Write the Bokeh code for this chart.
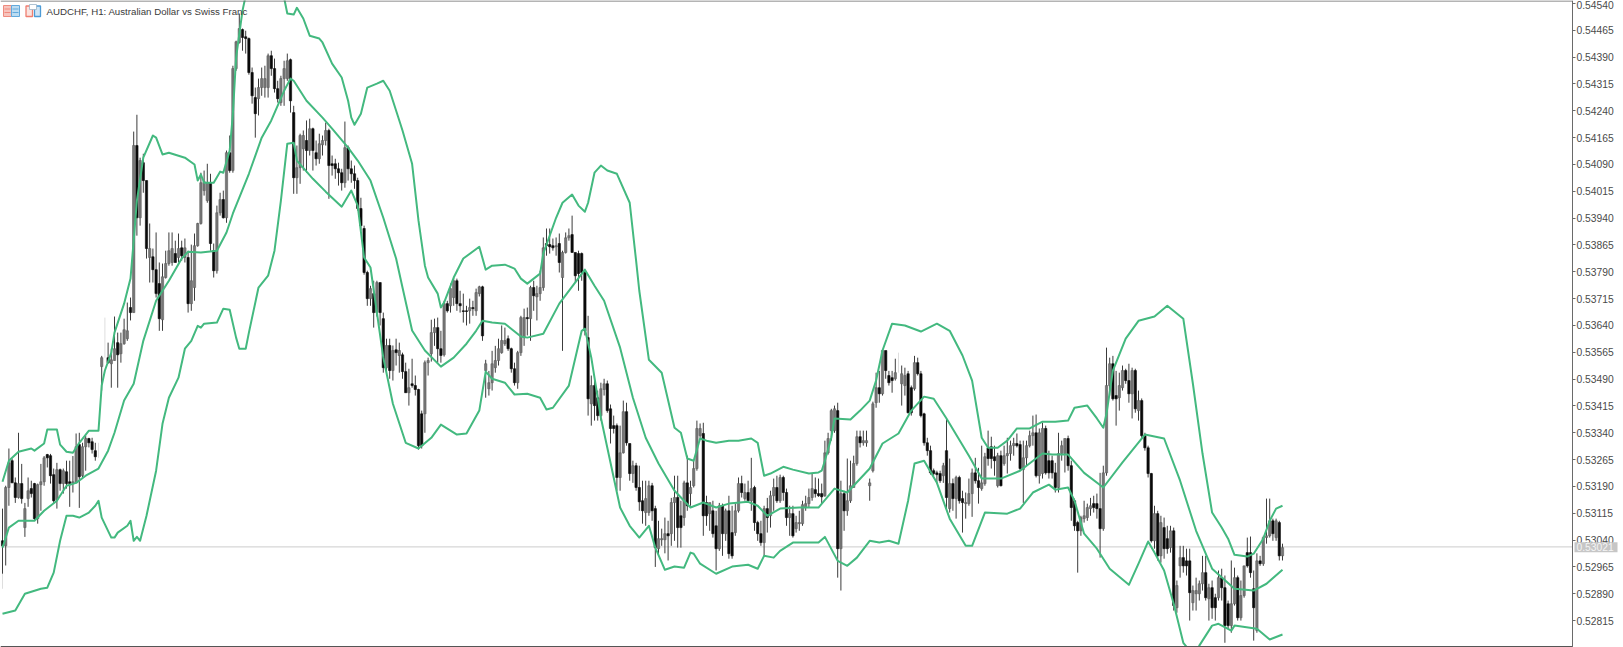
import numpy as np
from bokeh.core.properties import value
from bokeh.embed import file_html
from bokeh.resources import INLINE
from bokeh.plotting import figure
from bokeh.models import LinearAxis, FixedTicker, Label, NumeralTickFormatter, Range1d

symbol_text = "AUDCHF, H1:  Australian Dollar vs Swiss Franc"
tick_labels = ["0.54540","0.54465","0.54390","0.54315","0.54240","0.54165","0.54090","0.54015","0.53940","0.53865","0.53790","0.53715","0.53640","0.53565","0.53490","0.53415","0.53340","0.53265","0.53190","0.53115","0.53040","0.52965","0.52890","0.52815"]
last_price = 0.53021

# prices in 1e-5 units (points)
opens = [
53038,53024,53187,53262,53200,53159,53198,53075,53156,53184,
53198,53100,53195,53203,53279,53276,53223,53153,53237,53198,
53231,53203,53200,53200,53307,53220,53301,53324,53315,53290,
None,53525,None,53550,53533,53542,53592,53561,53589,53603,
53690,53676,54143,53941,54095,54045,53830,53832,53796,53757,
53656,53774,53813,53816,53841,53830,53857,53830,53830,53701,
53746,53863,53925,54017,53989,54039,53849,53793,53955,53992,
53941,54123,54073,54358,54431,54467,54447,54442,54347,54277,
54274,54305,54305,54305,54394,54358,54302,54263,54330,54330,
54383,54235,54053,54081,54134,54157,54129,54190,54123,54106,
54145,54157,54185,54092,54092,54078,54067,54039,54137,54078,
54064,54045,53967,53911,53788,53715,53729,53676,53760,53659,
53522,53584,53514,53572,53556,53558,53511,53452,53477,53472,
53461,53393,53393,53536,53561,53620,53634,53575,53558,53701,
53695,53718,53765,53701,53681,53681,53681,53690,53681,53729,
53748,53514,53463,53480,53522,53542,53564,53589,53603,53575,
53519,53480,53564,53606,53662,53659,53746,53720,53729,53746,
53869,53866,53863,53860,53869,53774,53844,53885,53894,53844,
53841,53841,53788,53606,53421,53472,53438,53388,53461,53477,
53407,53360,53360,53215,53284,53399,53310,53226,53248,53187,
53150,53117,53117,53192,53128,53016,53041,53041,53058,53058,
53145,53159,53108,53103,53200,53170,53192,53240,53332,53338,
53145,53114,53122,53080,53016,53136,53058,53122,53061,53061,
53122,53198,53156,53173,53150,53187,53089,53058,53033,53128,
53108,53164,53187,53150,53215,53173,53103,53114,53072,53086,
53086,53131,53142,53159,53181,53170,53170,53164,53284,53346,
53346,53402,53016,53170,53122,53150,53187,53254,53329,53312,
53312,53192,53234,53424,53466,53449,53570,53500,53494,53491,
None,53477,53472,53505,53466,53463,53536,53505,53393,53312,
53290,53234,53228,53226,53220,53290,53128,53198,53156,53215,
53156,53142,53142,53170,53228,53206,53184,53198,53298,53301,
53273,53192,53276,53254,53276,53282,53304,53310,53307,53237,
53270,53304,53332,53340,53220,53226,53352,53262,53262,53228,
53187,53282,53282,53324,53248,53150,53089,53066,53100,53103,
53128,53142,53142,53128,53072,53228,53472,53533,53444,53438,
53466,53514,53486,53449,53514,53402,53430,53332,53298,53226,
53038,53114,52996,53075,53044,53019,53066,52851,52968,52991,
52982,52982,52865,52890,52890,52918,52949,52876,52907,52879,
52879,52935,52907,52862,52801,52862,52935,52823,52885,53005,
53005,52904,52787,52982,52974,53047,53052,53094,53047,53089,52996]
highs = [
53128,53192,53296,53268,53215,53340,53253,53144,53215,53206,
53200,53198,53253,53275,53281,53281,53240,53256,53240,53240,
53262,53262,53275,53338,53340,53312,53332,53326,53326,53312,
None,53555,None,53592,53575,53665,53620,53620,53659,53704,
53718,54182,54229,54109,54120,54045,53925,53855,53900,53816,
53813,53849,53900,53900,53877,53897,53877,53883,53849,53866,
53897,53927,54067,54073,54092,54064,53869,53975,54011,54017,
54129,54171,54366,54436,54512,54470,54464,54445,54361,54305,
54330,54361,54366,54400,54408,54386,54324,54338,54380,54400,
54386,54254,54143,54176,54185,54213,54218,54193,54157,54176,
54171,54207,54190,54115,54106,54095,54078,54210,54143,54101,
54087,54053,53997,53919,53793,53751,53765,53765,53760,53676,
53603,53603,53584,53603,53592,53564,53536,53519,53547,53500,
53463,53402,53542,53550,53656,53659,53662,53625,53709,53709,
53757,53773,53771,53737,53729,53695,53715,53709,53743,53751,
53751,53544,53513,53569,53583,53603,53640,53634,53612,53578,
53536,53569,53667,53687,53690,53751,53765,53751,53793,53886,
53911,53911,53883,53886,53897,53849,53900,53911,53947,53844,
53849,53844,53793,53667,53500,53500,53458,53480,53491,53486,
53419,53388,53366,53360,53430,53424,53310,53262,53256,53248,
53206,53206,53206,53200,53136,53094,53072,53103,53094,53158,
53220,53220,53150,53206,53276,53206,53262,53374,53366,53368,
53164,53144,53150,53122,53144,53142,53128,53164,53136,53142,
53215,53220,53198,53206,53270,53192,53094,53094,53136,53158,
53178,53212,53220,53223,53220,53184,53136,53136,53108,53122,
53150,53164,53184,53226,53215,53212,53198,53318,53340,53407,
53416,53424,53206,53178,53268,53262,53276,53346,53346,53346,
53346,53212,53427,53508,53513,53569,53569,53513,53513,53547,
None,53528,53522,53513,53472,53555,53550,53513,53396,53326,
53304,53240,53234,53234,53256,53380,53268,53212,53220,53220,
53178,53173,53212,53240,53270,53242,53304,53284,53346,53329,
53304,53284,53290,53304,53326,53318,53326,53338,53318,53318,
53318,53346,53388,53391,53352,53368,53360,53290,53276,53256,
53340,53318,53324,53332,53262,53156,53094,53108,53150,53142,
53158,53164,53170,53228,53248,53578,53550,53555,53513,53508,
53528,53519,53533,53522,53519,53458,53436,53340,53304,53228,
53136,53122,53108,53103,53080,53080,53075,52927,53024,53024,
53016,53016,52913,52935,52927,52996,52996,52918,52927,52890,
52955,52960,52941,52871,52983,52963,52941,52927,52968,53047,
53050,52955,53003,52996,53052,53156,53156,53100,53100,53094,53030]
lows = [
52946,52969,53136,53200,53144,53156,53142,53049,53133,53159,
53094,53086,53122,53192,53243,53198,53142,53128,53178,53170,
53184,53133,53173,53200,53130,53215,53234,53299,53282,53262,
None,53458,None,53533,53466,53542,53466,53536,53586,53597,
53654,53676,53891,53919,54011,53827,53760,53760,53718,53625,
53625,53771,53807,53807,53816,53816,53821,53816,53676,53681,
53709,53860,53922,54003,53983,53849,53774,53785,53947,53939,
53927,54067,54067,54352,54428,54408,54400,54341,54260,54165,
54227,54282,54277,54277,54338,54291,54263,54254,54254,54324,
54235,54008,54008,54036,54073,54067,54115,54073,54087,54092,
54115,54143,53994,54059,54050,54031,54017,54025,54045,54039,
54022,53961,53905,53782,53695,53695,53634,53665,53640,53508,
53500,53491,53486,53528,53508,53491,53452,53416,53466,53444,
53293,53296,53340,53500,53539,53583,53536,53536,53553,53676,
53676,53695,53681,53676,53648,53640,53645,53667,53667,53721,
53597,53438,53444,53458,53508,53528,53561,53583,53569,53508,
53472,53463,53555,53583,53612,53597,53681,53654,53709,53737,
53835,53841,53849,53835,53788,53569,53841,53877,53844,53760,
53737,53765,53612,53388,53360,53374,53374,53374,53444,53396,
53310,53338,53178,53178,53282,53304,53206,53200,53178,53122,
53086,53080,53108,53094,52965,52996,53024,53003,52983,53024,
53038,53019,53019,53080,53122,53136,53187,53234,53326,53052,
53080,53066,53047,52955,53010,52996,53038,52988,52988,53052,
53117,53159,53150,53144,53122,53066,53038,53024,52996,53061,
53075,53122,53144,53144,53150,53080,53052,53047,53061,53066,
53080,53122,53130,53150,53159,53161,53142,53161,53279,53318,
53340,52935,52899,53066,53108,53144,53187,53248,53299,53304,
53301,53150,53229,53410,53424,53444,53491,53472,53452,53486,
None,53416,53444,53394,53388,53458,53500,53383,53304,53276,
53223,53220,53198,53200,53200,53122,53117,53122,53100,53142,
53061,53100,53136,53105,53198,53142,53178,53192,53248,53240,
53220,53187,53190,53248,53226,53262,53276,53299,53234,53144,
53248,53299,53304,53215,53198,53212,53223,53212,53212,53173,
53173,53262,53229,53234,53094,53066,52949,53052,53089,53094,
53108,53117,53100,52991,53066,53220,53444,53430,53360,53402,
53458,53477,53424,53380,53396,53374,53326,53290,53215,53033,
53016,52983,52977,52988,53002,53005,52843,52837,52935,52949,
52941,52815,52843,52843,52871,52899,52871,52815,52820,52815,
52871,52871,52753,52792,52781,52857,52815,52815,52879,52963,
52935,52759,52781,52968,52968,53030,53047,53038,53038,52983,52983]
closes = [
53024,53187,53256,53200,53159,53198,53156,53128,53178,53170,
53100,53195,53203,53270,53270,53220,53150,53237,53198,53234,
53198,53198,53203,53301,53217,53301,53324,53312,53293,53273,
None,53550,None,53536,53544,53575,53558,53589,53628,53625,
53676,54143,53941,54101,54045,53855,53855,53796,53729,53659,
53776,53813,53849,53855,53816,53855,53835,53857,53701,53765,
53863,53925,54039,54042,54039,53869,53793,53955,53992,53941,
54123,54073,54358,54433,54470,54445,54442,54347,54282,54232,
54305,54330,54330,54394,54358,54302,54274,54330,54358,54380,
54268,54053,54081,54171,54171,54129,54190,54129,54106,54148,
54157,54185,54087,54087,54078,54067,54039,54137,54078,54064,
54045,53967,53919,53788,53715,53743,53676,53760,53676,53522,
53584,53514,53570,53564,53570,53511,53452,53466,53472,53461,
53304,53304,53536,53542,53620,53634,53575,53556,53701,53681,
53743,53765,53701,53695,53679,53679,53690,53687,53732,53748,
53611,53533,53480,53533,53542,53575,53598,53598,53575,53519,
53480,53564,53662,53662,53659,53746,53723,53729,53746,53857,
53863,53860,53857,53863,53816,53844,53885,53891,53844,53779,
53785,53788,53625,53435,53472,53416,53388,53463,53477,53402,
53352,53352,53215,53284,53399,53312,53226,53248,53187,53147,
53122,53156,53192,53122,53019,53044,53044,53058,53052,53145,
53159,53075,53075,53200,53136,53187,53240,53352,53352,53108,
53108,53145,53058,53016,53136,53058,53122,53002,52996,53122,
53198,53173,53173,53150,53184,53089,53058,53033,53128,53103,
53164,53187,53150,53215,53173,53103,53114,53052,53089,53089,
53139,53142,53159,53184,53170,53164,53161,53284,53324,53402,
53407,53016,53170,53122,53150,53192,53254,53329,53312,53318,
53318,53200,53421,53466,53449,53570,53514,53480,53486,53508,
None,53505,53500,53396,53396,53536,53505,53388,53312,53290,
53228,53226,53223,53206,53248,53159,53198,53156,53215,53150,
53145,53145,53170,53228,53206,53187,53200,53273,53268,53268,
53262,53276,53192,53276,53282,53304,53310,53304,53240,53270,
53304,53332,53340,53220,53340,53352,53228,53228,53228,53187,
53282,53304,53324,53248,53131,53080,53066,53103,53108,53131,
53136,53131,53128,53072,53228,53472,53533,53435,53435,53472,
53514,53486,53449,53514,53407,53430,53332,53298,53226,53038,
53114,52996,53089,53016,53016,53066,52857,52913,52991,52968,
52968,52893,52899,52899,52918,52949,52879,52907,52851,52851,
52935,52907,52801,52801,52862,52935,52823,52885,52968,52968,
52949,52851,52982,52974,53047,53052,53094,53058,53094,52996,53019]

faint_bars = [0,30,32,280]
faint_high = [52946,53312,53662,53564]
faint_low = [52904,53270,53550,53508]

upper_bar = [0,2,5,9,10,13,14,17,18,20,22,24,27,30,31,32,34,35,38,40,41,42,44,47,48,50,52,57,60,61,62,63,66,68,69,71,72,73,75,76,82,88,89,91,92,94,96,99,100,103,106,108,109,110,112,114,117,119,121,124,125,128,130,132,133,136,137,138,141,144,149,151,153,157,160,162,164,168,169,173,175,178,180,182,183,185,187,189,192,196,198,199,202,206,210,212,214,216,218,220,223,227,230,234,236,238,240,244,247,252,255,256,257,259,260,265,268,271,273,275,278,282,287,292,296,300,303,306,308,311,314,317,321,325,329,333,335,339,342,344,345,347,351,355,360,364,369,372,375,378,381,383,385,389,391,394,396,398,400]
upper_val = [53203,53262,53287,53296,53290,53310,53349,53349,53307,53287,53284,53312,53346,53346,53472,53514,53564,53620,53701,53771,53877,53989,54109,54171,54165,54118,54123,54109,54090,54045,54062,54039,54039,54070,54067,54129,54232,54389,54520,54562,54590,54556,54512,54509,54528,54498,54450,54442,54431,54372,54333,54268,54221,54201,54232,54305,54316,54324,54296,54213,54185,54092,53933,53807,53774,53729,53690,53704,53774,53827,53860,53796,53807,53810,53799,53771,53757,53785,53841,53941,53983,54006,53975,53958,53983,54067,54087,54073,54064,53983,53821,53737,53544,53508,53354,53340,53268,53262,53324,53318,53312,53318,53318,53324,53312,53220,53226,53245,53237,53226,53229,53234,53262,53326,53380,53377,53402,53430,53486,53570,53645,53640,53623,53645,53625,53556,53486,53326,53298,53298,53318,53352,53352,53371,53371,53374,53410,53416,53380,53354,53393,53514,53603,53653,53665,53695,53659,53477,53282,53117,53075,53044,52999,52994,53002,53044,53094,53128,53136]
middle_bar = [0,2,5,10,13,17,20,23,26,30,33,35,38,41,44,48,52,56,58,62,67,70,72,77,81,84,88,90,91,95,100,103,108,111,115,119,123,125,128,132,137,141,145,148,150,153,157,162,164,169,174,182,185,188,193,197,201,205,210,215,219,223,227,233,236,239,243,249,255,260,264,271,275,280,284,288,291,295,302,306,312,318,325,328,333,338,344,350,357,363,368,373,378,385,391,395,400]
middle_val = [53019,53075,53094,53094,53122,53150,53192,53200,53220,53240,53290,53340,53430,53477,53597,53709,53765,53827,53846,53844,53849,53900,53953,54064,54165,54213,54296,54330,54324,54268,54221,54190,54137,54101,54045,53941,53827,53746,53626,53570,53525,53550,53589,53625,53653,53648,53645,53609,53606,53617,53701,53796,53751,53709,53578,53438,53326,53254,53178,53131,53145,53131,53142,53147,53136,53108,53128,53131,53131,53184,53173,53240,53310,53338,53402,53441,53435,53380,53276,53212,53212,53234,53282,53279,53279,53228,53187,53257,53335,53324,53206,53066,52960,52904,52899,52918,52957]
lower_bar = [0,4,7,12,14,16,18,20,22,24,27,29,30,31,34,35,36,39,40,41,42,43,45,48,50,52,55,57,59,61,62,63,67,69,71,73,74,76,77,80,83,85,87,89,91,92,97,101,103,106,109,111,113,115,119,122,126,130,134,137,142,145,149,151,153,157,160,164,168,170,172,177,181,182,184,187,193,196,199,202,204,207,210,213,215,216,218,223,228,233,236,238,241,243,247,255,257,261,264,267,271,274,277,280,283,285,288,292,296,301,303,307,314,318,322,327,329,333,335,338,342,346,352,355,358,360,363,366,369,371,373,374,378,380,384,385,392,396,400]
lower_val = [52834,52843,52890,52904,52907,52949,53038,53108,53108,53103,53117,53136,53150,53103,53047,53047,53061,53080,53094,53038,53049,53038,53108,53234,53365,53438,53494,53575,53597,53639,53634,53645,53648,53687,53684,53606,53575,53575,53620,53746,53779,53849,53989,54148,54151,54101,54050,54014,53997,53972,54017,53975,53830,53802,53550,53421,53312,53296,53326,53363,53335,53338,53402,53511,53491,53480,53447,53449,53438,53405,53410,53472,53625,53631,53550,53382,53131,53080,53047,53080,53019,52957,52966,52963,53005,53002,52974,52946,52966,52971,52960,52996,52991,53010,53033,53033,53049,52982,52968,52991,53038,53033,53038,53030,53150,53254,53262,53200,53100,53024,53024,53117,53114,53128,53173,53195,53181,53187,53150,53058,53016,52960,52915,52974,53036,53005,52955,52862,52753,52731,52717,52745,52801,52806,52787,52801,52792,52762,52776]

PT = 1e-5
W, H = 1623, 647
AXIS_PX = 1572
BAR_PX = 3.2
PX_PER_PRICE = 26.83 / 0.00075
top_price = 0.54540 + 3 / PX_PER_PRICE
bot_price = top_price - H / PX_PER_PRICE
x0 = -2 / BAR_PX
x1 = x0 + W / BAR_PX

def sx(px):
    return x0 + px / BAR_PX
def sy(py):
    return top_price - py / PX_PER_PRICE

o = np.array(opens, dtype=float) * PT
h = np.array(highs, dtype=float) * PT
l = np.array(lows, dtype=float) * PT
c = np.array(closes, dtype=float) * PT
idx = np.arange(len(o))
bull = c >= o
bear = c < o

p = figure(width=W, height=H, output_backend="svg", toolbar_location=None,
           x_range=Range1d(x0, x1), y_range=Range1d(bot_price, top_price),
           min_border_left=0, min_border_top=0, min_border_bottom=0, min_border_right=0,
           x_axis_location=None, y_axis_location=None, background_fill_color="white",
           border_fill_color="white", outline_line_color=None)
p.grid.visible = False

# current price line
p.segment([x0], [last_price], [sx(AXIS_PX)], [last_price], line_color="#cdcdcd", line_width=1)

p.segment(np.array(faint_bars), np.array(faint_high) * PT, np.array(faint_bars), np.array(faint_low) * PT,
          line_color="#dedede", line_width=1)
p.segment(idx, h, idx, l, line_color="#3c3c3c", line_width=1)
p.vbar(idx[bull], top=c[bull], bottom=o[bull], width=0.72, fill_color="#777777", line_color="#5c5c5c", line_width=0.6)
p.vbar(idx[bear], top=o[bear], bottom=c[bear], width=0.72, fill_color="#0a0a0a", line_color="#0a0a0a", line_width=0.6)

band_color = "#43b97f"
p.line(upper_bar, np.array(upper_val) * PT, line_color=band_color, line_width=2, line_join="round")
p.line(middle_bar, np.array(middle_val) * PT, line_color=band_color, line_width=2, line_join="round")
p.line(lower_bar, np.array(lower_val) * PT, line_color=band_color, line_width=2, line_join="round")

ticks = [float(t) for t in tick_labels]
axis = LinearAxis(ticker=FixedTicker(ticks=ticks), formatter=NumeralTickFormatter(format="0.00000"),
                  axis_line_color="#6a6a6a", axis_line_width=1, fixed_location=sx(AXIS_PX),
                  major_tick_line_color="#6a6a6a", major_tick_in=0, major_tick_out=3, minor_tick_line_color=None,
                  major_label_text_font="Liberation Sans", major_label_text_font_size="10.3px",
                  major_label_text_color="#4a4a4a", major_label_standoff=1)
p.add_layout(axis, "right")

# frame lines
p.segment([x0, x0], [sy(0.5), sy(646)], [sx(AXIS_PX), sx(AXIS_PX)], [sy(0.5), sy(646)],
          line_color=["#6a6a6a", "#555555"], line_width=1)

# price tag
p.quad(left=[sx(1574)], right=[sx(1617)], top=[sy(541.7)], bottom=[sy(551.7)], fill_color="#c6c6c6",
       line_color=None, level="annotation")
p.text(x=[sx(1576)], y=[last_price], text=[f"{last_price:.5f}"], text_font=value("Liberation Sans"),
       text_font_size="10.3px", text_color="#f4f4f4", text_baseline="middle", level="overlay")

# header icons and text
p.add_layout(Label(x=46, y=sy(11), x_units="screen", y_units="data", text=symbol_text,
                   text_font="Liberation Sans", text_font_size="9.7px", text_color="#3a3a3a", text_baseline="middle"))
p.quad(left=[sx(3)], right=[sx(11)], top=[sy(5)], bottom=[sy(16)], fill_color="#f7c4bd", line_color="#ef8a7e", line_width=1)
p.quad(left=[sx(11)], right=[sx(19)], top=[sy(5)], bottom=[sy(16)], fill_color="#bcdcf2", line_color="#62a9dc", line_width=1)
p.segment([sx(4), sx(4), sx(12), sx(12)], [sy(8.5), sy(12), sy(8.5), sy(12)], [sx(10), sx(10), sx(18), sx(18)], [sy(8.5), sy(12), sy(8.5), sy(12)],
          line_color=["#ef8a7e", "#ef8a7e", "#62a9dc", "#62a9dc"], line_width=1)
p.quad(left=[sx(25.5)], right=[sx(32)], top=[sy(5.5)], bottom=[sy(16)], fill_color="#fbe3df", line_color="#ef7e70", line_width=1.3)
p.quad(left=[sx(34)], right=[sx(40)], top=[sy(5.5)], bottom=[sy(16)], fill_color="#cfe5f5", line_color="#4d9bd6", line_width=1.3)
p.quad(left=[sx(29)], right=[sx(36)], top=[sy(4)], bottom=[sy(9)], fill_color="#ffffff", line_color="#9ab4c8", line_width=0.8)

open("out.html", "w").write(file_html(p, INLINE))
